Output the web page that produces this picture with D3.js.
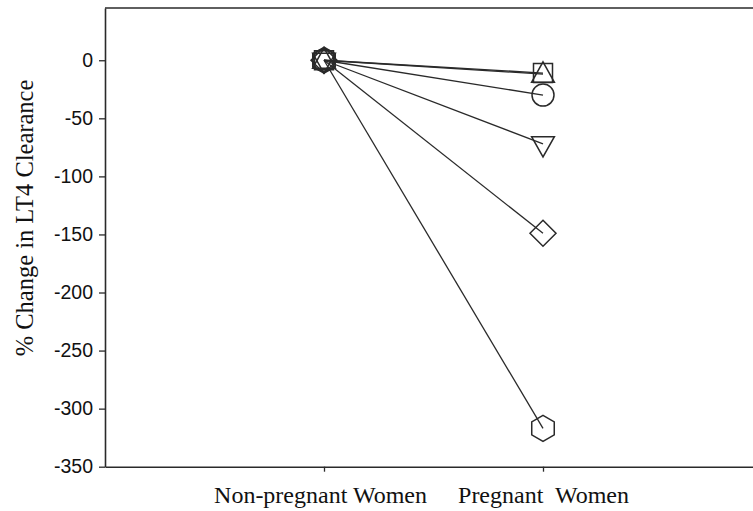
<!DOCTYPE html>
<html>
<head>
<meta charset="utf-8">
<script src="https://cdn.jsdelivr.net/npm/d3@7"></script>
<style>
  html, body { margin: 0; padding: 0; background: #fff; }
  svg { display: block; }
</style>
</head>
<body>
<svg id="chart" width="753" height="511"></svg>
<script>
// ---- data ----
const categories = ["Non-pregnant Women", "Pregnant  Women"];
const seriesNames = ["square", "triangleUp", "circle", "triangleDown", "diamond", "hexagon"];
const nonPregnantValues = [0, 0, 0, 0, 0, 0];
const pregnantValues = [-11, -12, -30, -72, -149, -317];
const yTicks = [0, -50, -100, -150, -200, -250, -300, -350];
const yLabel = "% Change in LT4 Clearance";

const serif = '"Liberation Serif", "Times New Roman", "DejaVu Serif", serif';
const sans = '"Liberation Sans", Arial, sans-serif';

// ---- custom symbol types (size = radius-like) ----
const shapes = {
  square: { draw(ctx, r) { ctx.rect(-r, -r, 2 * r, 2 * r); } },
  triangleUp: { draw(ctx, r) { ctx.moveTo(0, -r * 1.3); ctx.lineTo(r * 1.2, r * 0.85); ctx.lineTo(-r * 1.2, r * 0.85); ctx.closePath(); } },
  circle: { draw(ctx, r) { ctx.moveTo(r, 0); ctx.arc(0, 0, r, 0, 2 * Math.PI); } },
  triangleDown: { draw(ctx, r) { ctx.moveTo(-r * 1.2, -r * 0.75); ctx.lineTo(r * 1.2, -r * 0.75); ctx.lineTo(0, r * 1.37); ctx.closePath(); } },
  diamond: { draw(ctx, r) { ctx.moveTo(0, -r); ctx.lineTo(r, 0); ctx.lineTo(0, r); ctx.lineTo(-r, 0); ctx.closePath(); } },
  hexagon: { draw(ctx, r) {
    for (let i = 0; i < 6; i++) {
      const a = -Math.PI / 2 + i * Math.PI / 3;
      const px = r * Math.cos(a), py = r * Math.sin(a);
      if (i === 0) ctx.moveTo(px, py); else ctx.lineTo(px, py);
    }
    ctx.closePath();
  } }
};
const shapeSize = { square: 9.5, triangleUp: 9.5, circle: 11, triangleDown: 9.5, diamond: 13, hexagon: 13 };

// ---- layout ----
const svg = d3.select("#chart");
const plotLeft = 105, plotRight = 762, plotTop = 8, plotBottom = 466.7;

const x = d3.scalePoint().domain(categories).range([plotLeft, plotRight]).padding(1);
const y = d3.scaleLinear().domain([-350, 45]).range([plotBottom, plotTop]);

const ink = "#2a2a2a";

// frame top
svg.append("line").attr("x1", plotLeft).attr("x2", plotRight).attr("y1", plotTop).attr("y2", plotTop)
  .attr("stroke", ink).attr("stroke-width", 1.6);

// y axis
const yAxis = svg.append("g").attr("transform", `translate(${plotLeft},0)`)
  .call(d3.axisLeft(y).tickValues(yTicks).tickSize(6).tickSizeOuter(0).tickPadding(6).tickFormat(d => String(d)));
yAxis.select(".domain").attr("stroke", ink).attr("stroke-width", 1.6);
yAxis.selectAll(".tick line").attr("stroke", ink).attr("stroke-width", 1.3);
yAxis.selectAll(".tick text").attr("fill", "#111")
  .style("font-family", sans).style("font-size", "19.5px");

// x axis
const xAxis = svg.append("g").attr("transform", `translate(0,${plotBottom})`)
  .call(d3.axisBottom(x).tickSize(5).tickSizeOuter(0).tickPadding(14));
xAxis.select(".domain").attr("stroke", ink).attr("stroke-width", 1.6);
xAxis.selectAll(".tick line").attr("stroke", ink).attr("stroke-width", 1.3);
xAxis.selectAll(".tick text").attr("fill", "#111")
  .style("font-family", serif).style("font-size", "24px").style("white-space", "pre");
xAxis.selectAll(".tick text").filter(d => d === categories[0]).attr("dx", -4);

// y label
svg.append("text")
  .attr("transform", `translate(33, 218) rotate(-90)`)
  .attr("text-anchor", "middle")
  .attr("fill", "#111")
  .style("font-family", serif)
  .style("font-size", "24.5px")
  .text(yLabel);

// series
const series = seriesNames.map((name, i) => ({
  name,
  points: [
    { cat: categories[0], v: nonPregnantValues[i] },
    { cat: categories[1], v: pregnantValues[i] }
  ]
}));

const line = d3.line().x(d => x(d.cat)).y(d => y(d.v));

svg.append("g").selectAll("path").data(series).join("path")
  .attr("d", d => line(d.points))
  .attr("fill", "none").attr("stroke", ink).attr("stroke-width", 1.3);

const markers = svg.append("g");
series.forEach(s => {
  markers.selectAll(null).data(s.points).join("path")
    .attr("transform", d => `translate(${x(d.cat)},${y(d.v)})`)
    .attr("d", d3.symbol().type(shapes[s.name]).size(shapeSize[s.name]))
    .attr("fill", "none").attr("stroke", ink).attr("stroke-width", 1.5);
});
</script>
</body>
</html>
